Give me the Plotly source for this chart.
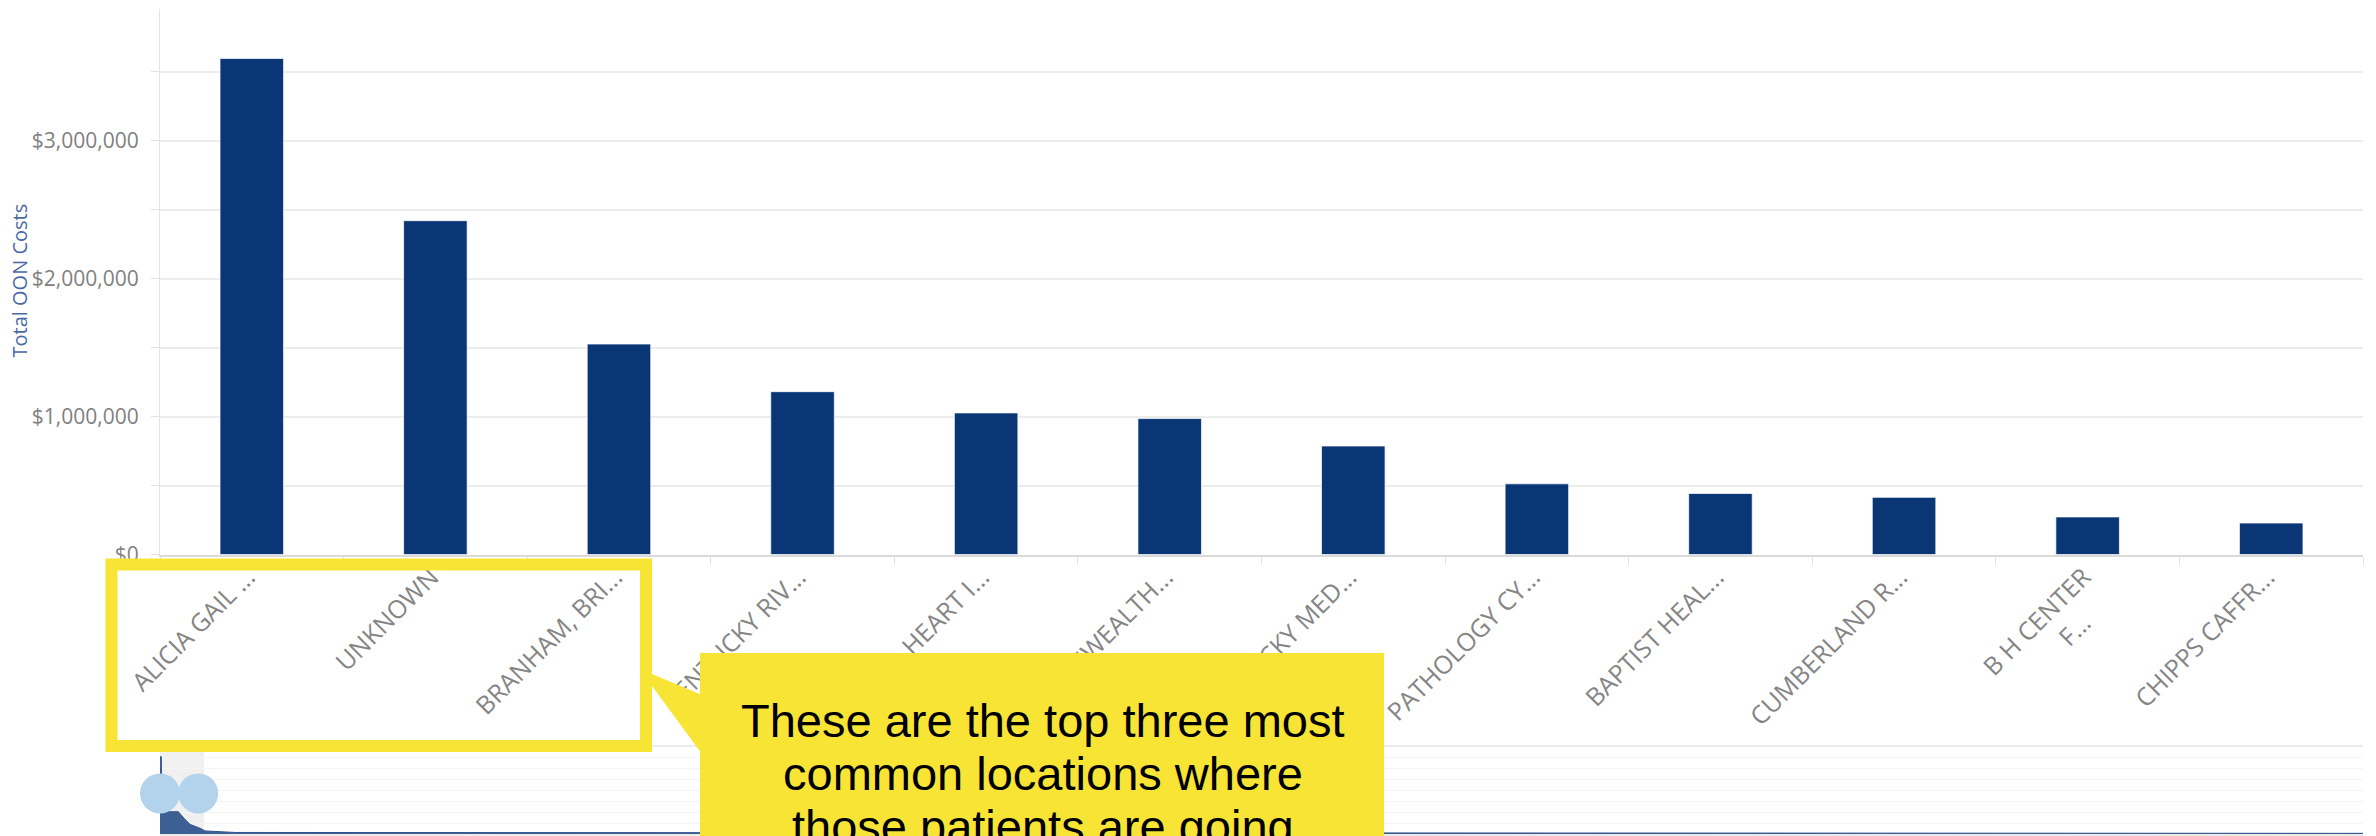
import plotly.graph_objects as go

# Top out-of-network locations by total cost
locations = [
    "ALICIA GAIL ...", "UNKNOWN", "BRANHAM, BRI...", "KENTUCKY RIV...",
    "CENTRAL HEART I...", "COMMONWEALTH...", "KENTUCKY MED...", "PATHOLOGY CY...",
    "BAPTIST HEAL...", "CUMBERLAND R...",
    "B H CENTER<br>F..." + "&nbsp;" * 5, "CHIPPS CAFFR...",
]
oon_costs = [
    3594000, 2419000, 1525000, 1180000, 1026000, 985000,
    786000, 512000, 442000, 414000, 272000, 228000,
]
y_ticks = [0, 1000000, 2000000, 3000000]
y_tick_text = ["$0", "$1,000,000", "$2,000,000", "$3,000,000"]

# Overview (navigator) series across all locations, and its selected window
nav_x = [-0.5, -0.15, 0.0, 4.5, 6.3, 7.7, 10.4, 11.8, 20, 599.5]
nav_y = [3540000, 3540000, 1020000, 1020000, 670000, 440000, 260000, 140000, 70000, 30000]
nav_window = [-0.5, 11.5]
nav_handles = [-0.5, 9.9]

callout_lines = [
    "These are the top three most",
    "common locations where",
    "those patients are going",
]

W, H = 2376, 836
ML, MR, MT, MB = 160, 13, 9, 2
PW, PH = W - ML - MR, H - MT - MB


def paper_x(p):
    return (p - ML) / PW


def paper_y(p):
    return (H - MB - p) / PH


BAR = "#0a3676"
YELLOW = "#f7e435"
FAMILY = "Open Sans, sans-serif"

fig = go.Figure()

fig.add_trace(go.Bar(
    x=locations, y=oon_costs,
    marker=dict(color=BAR, line=dict(color="rgba(255,255,255,0.7)", width=1)),
    xaxis="x", yaxis="y", showlegend=False,
))

# Navigator overview
fig.add_trace(go.Scatter(
    x=nav_x, y=nav_y, mode="lines", fill="tozeroy",
    line=dict(color="#2f528c", width=1),
    fillcolor="rgba(47,82,140,0.92)",
    xaxis="x2", yaxis="y2", showlegend=False, hoverinfo="skip",
))
fig.add_trace(go.Scatter(
    x=nav_handles, y=[1860000] * len(nav_handles), mode="markers",
    marker=dict(size=40, color="#b3d2ec", line=dict(width=0)),
    xaxis="x2", yaxis="y2", showlegend=False, cliponaxis=False, hoverinfo="skip",
))

fig.update_layout(
    width=W, height=H,
    margin=dict(l=ML, r=MR, t=MT, b=MB, autoexpand=False),
    paper_bgcolor="white", plot_bgcolor="white",
    bargap=0.654,
    xaxis=dict(
        type="category", domain=[0, 1], anchor="y", range=[-0.5, 11.5],
        showgrid=False, showline=True, linecolor="#dadada", linewidth=2,
        ticks="outside", tickson="boundaries", ticklen=8, tickcolor="#e2e2e2",
        tickangle=-45, ticklabelstandoff=-4, ticklabelshift=-4,
        tickfont=dict(family=FAMILY, size=25, color="#858585"),
    ),
    yaxis=dict(
        domain=[paper_y(554.5), 1], anchor="x", range=[0, 3953000],
        tickvals=y_ticks, ticktext=y_tick_text,
        showgrid=True, gridcolor="#ececec", gridwidth=2,
        minor=dict(dtick=500000, showgrid=True, gridcolor="#ececec", gridwidth=2,
                   ticks="outside", ticklen=8, tickcolor="#e2e2e2"),
        ticks="outside", ticklen=8, tickcolor="#e2e2e2",
        ticklabelstandoff=8,
        showline=True, linecolor="#e4e4e4", linewidth=1, zeroline=False,
        tickfont=dict(family=FAMILY, size=21, color="#808080"),
    ),
    xaxis2=dict(
        domain=[0, 1], anchor="y2", range=[-0.5, 599.5],
        showticklabels=False, showgrid=False, zeroline=False,
        showline=True, mirror=True, linecolor="#ebebeb", linewidth=2, ticks="",
    ),
    yaxis2=dict(
        domain=[0, paper_y(746.7)], anchor="x2", range=[0, 4000000], dtick=500000,
        showticklabels=False, showgrid=True, gridcolor="#f4f4f4", gridwidth=1,
        zeroline=False, showline=False, ticks="",
    ),
)

shapes = [
    # selected window in the navigator
    dict(type="rect", xref="x2", yref="y2 domain", x0=nav_window[0], x1=nav_window[1],
         y0=0, y1=1, fillcolor="rgba(0,0,0,0.06)", line=dict(width=0), layer="below"),
    # highlight around the first three labels
    dict(type="rect", xref="paper", yref="paper",
         x0=paper_x(111.5), x1=paper_x(646), y0=paper_y(746), y1=paper_y(564.5),
         line=dict(color=YELLOW, width=12), fillcolor="rgba(0,0,0,0)", layer="above"),
    # callout box
    dict(type="rect", xref="paper", yref="paper",
         x0=paper_x(700), x1=paper_x(1384), y0=paper_y(845), y1=paper_y(653),
         line=dict(width=0), fillcolor=YELLOW, layer="above"),
    # callout pointer
    dict(type="path", xref="paper", yref="paper",
         path=(f"M {paper_x(652)},{paper_y(674)} L {paper_x(702)},{paper_y(695)} "
               f"L {paper_x(702)},{paper_y(754)} L {paper_x(652)},{paper_y(686)} Z"),
         line=dict(width=0), fillcolor=YELLOW, layer="above"),
]
fig.update_layout(shapes=shapes)

annotations = [
    dict(text="Total OON Costs", textangle=-90, xref="paper", yref="paper",
         x=paper_x(18.5), y=paper_y(281), xanchor="center", yanchor="middle",
         showarrow=False, font=dict(family=FAMILY, size=20, color="#4a68a3")),
]
baselines = [736.5, 789.5, 842.5]
for line, base in zip(callout_lines, baselines):
    annotations.append(dict(
        text=line, xref="paper", yref="paper",
        x=paper_x(1042.5), y=paper_y(base - 16.3), xanchor="center", yanchor="middle",
        showarrow=False, font=dict(family="Liberation Sans, Arial, sans-serif", size=47, color="black"),
    ))
fig.update_layout(annotations=annotations)

fig.write_html("out.html")
